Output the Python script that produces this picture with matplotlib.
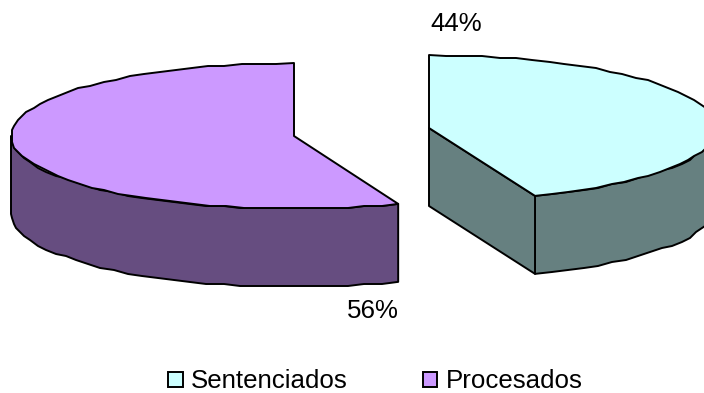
import numpy as np
import matplotlib
matplotlib.use("Agg")
import matplotlib.pyplot as plt
from matplotlib.patches import Polygon, Patch

categories = ["Sentenciados", "Procesados"]
shares = [44, 56]
share_labels = ["44%", "56%"]

top_colors = ["#CCFFFF", "#CC99FF"]
side_colors = ["#668080", "#664D80"]

plt.rcParams["font.family"] = ["Liberation Sans", "DejaVu Sans"]
FONT = 18.6
LW = 1.4

fig = plt.figure(figsize=(7.04, 3.93), dpi=100)
ax = fig.add_axes([0, 0, 1, 1])
ax.set_xlim(0, 704)
ax.set_ylim(393, 0)
ax.axis("off")

RY, DEPTH = 73, 78
GRID = 2.0   # vertices snap to a coarse grid, giving the rim its stepped outline


def rim(cx, cy, rx, a0, a1, step=3.5):
    """Rim points of the tilted disc; angles run clockwise from 12 o'clock."""
    n = max(2, int(abs(a1 - a0) / step) + 1)
    ang = np.radians(np.linspace(a0, a1, n))
    x = cx + rx * np.sin(ang)
    y = cy - RY * np.cos(ang)
    xs = np.round(x / GRID) * GRID
    ys = np.round(y / GRID) * GRID
    xs[[0, -1]], ys[[0, -1]] = x[[0, -1]], y[[0, -1]]
    return np.column_stack([xs, ys])


def add(points, color, z):
    ax.add_patch(Polygon(points, closed=True, facecolor=color, edgecolor="black",
                         linewidth=LW, joinstyle="round", zorder=z))


def wedge(cx, cy, rx, a0, a1, side):
    edge = rim(cx, cy, rx, a0, a1)
    # outer wall: only the part of the rim that faces the viewer
    lo, hi = max(min(a0, a1), 90), min(max(a0, a1), 270)
    if hi > lo:
        front = rim(cx, cy, rx, lo, hi)
        add(np.vstack([front, (front + [0, DEPTH])[::-1]]), side, 2)
    return edge


sweeps = [s / sum(shares) * 360 for s in shares]

# Sentenciados: starts at 12 o'clock and runs clockwise, pulled to the right
cx0, cy0, rx0 = 429, 128, 288
edge0 = wedge(cx0, cy0, rx0, 0, sweeps[0], side_colors[0])
centre0 = np.array([cx0, cy0])
tip0 = edge0[-1]
add(np.vstack([centre0, tip0, tip0 + [0, DEPTH], centre0 + [0, DEPTH]]), side_colors[0], 2)
add(np.vstack([centre0, edge0]), top_colors[0], 3)

# Procesados: fills the rest of the turn, pulled to the left
cx1, cy1, rx1 = 294, 136, 283
edge1 = wedge(cx1, cy1, rx1, sweeps[0], 360, side_colors[1])
add(np.vstack([[cx1, cy1], edge1]), top_colors[1], 3)

ax.text(456.5, 24, share_labels[0], fontsize=FONT, ha="center", va="center", color="black")
ax.text(372.5, 311, share_labels[1], fontsize=FONT, ha="center", va="center", color="black")

handles = [Patch(facecolor=c, edgecolor="black", linewidth=LW) for c in top_colors]
fig.legend(handles, categories, ncol=2, frameon=False, fontsize=FONT,
           loc="center", bbox_to_anchor=(375.5 / 704, 1 - 381.5 / 393),
           handlelength=0.55, handleheight=0.55, handletextpad=0.33,
           columnspacing=2.9, borderpad=0, borderaxespad=0)

fig.savefig("out.png", dpi=100)
